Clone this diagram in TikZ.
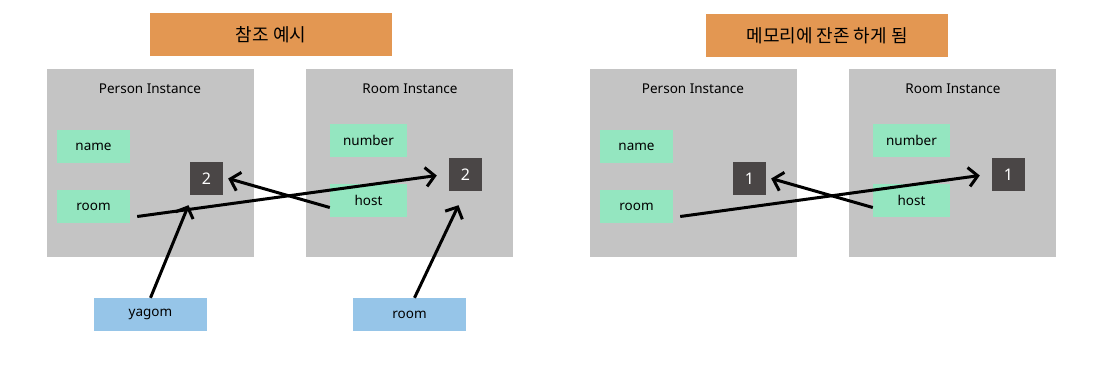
\documentclass[tikz,border=0pt]{standalone}
\usepackage{fontspec}
\setmainfont{Noto Sans}
\newfontfamily\krfont{Noto Sans CJK KR}
\usetikzlibrary{arrows.meta,positioning}
\definecolor{titleor}{HTML}{E39752}
\definecolor{instgray}{HTML}{C4C4C4}
\definecolor{fieldgr}{HTML}{94E6C0}
\definecolor{vardark}{HTML}{4A4646}
\definecolor{varblue}{HTML}{96C5E8}

\begin{document}
\begin{tikzpicture}[x=1pt,y=-1pt,
title/.style={fill=titleor,minimum width=242pt,minimum height=43pt,inner sep=0pt,font=\krfont\fontsize{18}{20}\selectfont},
inst/.style={fill=instgray,minimum width=207pt,minimum height=188pt,inner sep=0pt},
caption/.style={font=\fontsize{13.5}{16}\selectfont},
field/.style={fill=fieldgr,minimum height=33pt,inner sep=0pt,font=\fontsize{13.5}{16}\selectfont},
count/.style={fill=vardark,text=white,minimum width=33pt,minimum height=33pt,inner sep=0pt,font=\fontsize{16}{18}\selectfont},
ref/.style={fill=varblue,minimum width=113pt,minimum height=33pt,inner sep=0pt,font=\fontsize{13.5}{16}\selectfont},
arr/.style={-{Straight Barb[length=9pt,width=19pt,line width=3pt]},line width=3pt}]
\useasboundingbox (0,0) rectangle (1098,368);
% left: reference example
\node[title] (t1) at (271,34.5) {참조 예시};
\node[inst] (pers1) at (150.5,163) {};
\node[inst] (room1) at (409.5,163) {};
\node[caption] at (150,89) {Person Instance};
\node[caption] at (410,89) {Room Instance};
\node[field,minimum width=73pt] (name1) at (93.5,146.5) {name};
\node[field,minimum width=73pt] (rm1) at (93.5,206.5) {room};
\node[field,minimum width=77pt] (num1) at (368.5,140.5) {number};
\node[field,minimum width=77pt] (host1) at (368.5,200.5) {host};
\node[count] (pc1) at (206.5,178.5) {2};
\node[count] (rc1) at (465.5,174.5) {2};
\node[ref] (yagom) at (150.5,314.5) {yagom};
\node[ref] (roomvar) at (409.5,314.5) {room};
\draw[arr] ([xshift=7pt,yshift=-10pt]rm1.east) -- ([xshift=-12pt,yshift=-1pt]rc1.west);
\draw[arr] ([yshift=-7pt]host1.west) -- ([xshift=5pt]pc1.east);
\draw[arr] (yagom.north) -- ([xshift=-18pt,yshift=-10pt]pc1.south);
\draw[arr] ([xshift=5pt]roomvar.north) -- ([xshift=-7pt,yshift=-14pt]rc1.south);
% right: left in memory
\node[title] (t2) at (827,35.5) {메모리에 잔존 하게 됨};
\node[inst] (pers2) at (693.5,163) {};
\node[inst] (room2) at (952.5,163) {};
\node[caption] at (693,89) {Person Instance};
\node[caption] at (953,89) {Room Instance};
\node[field,minimum width=73pt] (name2) at (636.5,146.5) {name};
\node[field,minimum width=73pt] (rm2) at (636.5,206.5) {room};
\node[field,minimum width=77pt] (num2) at (911.5,140.5) {number};
\node[field,minimum width=77pt] (host2) at (911.5,200.5) {host};
\node[count] (pc2) at (749.5,178.5) {1};
\node[count] (rc2) at (1008.5,174.5) {1};
\draw[arr] ([xshift=7pt,yshift=-10pt]rm2.east) -- ([xshift=-12pt,yshift=-1pt]rc2.west);
\draw[arr] ([yshift=-7pt]host2.west) -- ([xshift=5pt]pc2.east);
\end{tikzpicture}
\end{document}
